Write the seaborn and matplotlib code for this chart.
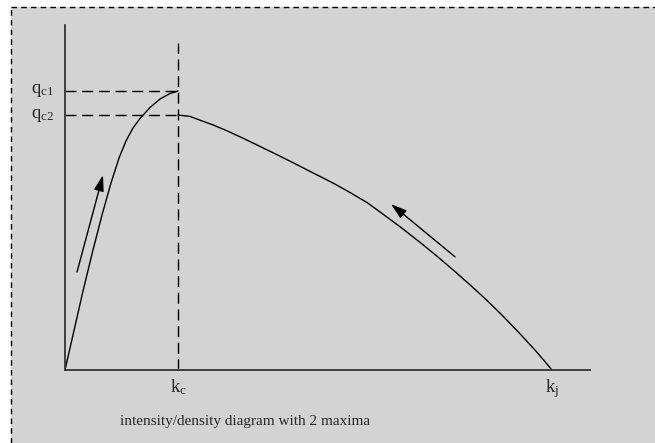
import matplotlib
matplotlib.use("Agg")
import matplotlib.pyplot as plt
from matplotlib.lines import Line2D
from matplotlib.patches import Rectangle
import seaborn as sns
import pandas as pd

# ---- data (density k, intensity q) ----
k_rise = [0.0, 3.43, 5.33, 7.05, 8.76, 10.29, 11.62, 12.95, 14.29, 16.19, 18.10, 20.0, 21.52]
q_rise = [0.0, 22.90, 34.78, 44.93, 54.20, 61.45, 66.38, 70.14, 72.90, 76.09, 78.55, 80.14, 80.87]
k_fall = [21.52, 23.81, 25.71, 28.19, 30.86, 33.90, 37.14, 40.38, 43.43, 46.67, 51.05, 54.29,
          57.52, 60.76, 63.81, 67.62, 70.86, 73.90, 77.14, 80.38, 83.43, 86.67, 89.71, 92.76]
q_fall = [73.91, 73.51, 72.41, 71.04, 69.33, 67.19, 64.81, 62.41, 60.09, 57.57, 54.20, 51.45,
          48.55, 44.96, 41.54, 37.01, 32.99, 29.04, 24.70, 20.17, 15.62, 10.49, 5.48, 0.0]
k_c, k_j = 21.52, 92.76
q_c1, q_c2 = 80.87, 73.91
labels_q = ["$\\mathrm{q}_{\\mathrm{c1}}$", "$\\mathrm{q}_{\\mathrm{c2}}$"]
labels_k = ["$\\mathrm{k}_{\\mathrm{c}}$", "$\\mathrm{k}_{\\mathrm{j}}$"]
caption = "intensity/density diagram with 2 maxima"
arrow_up = [(2.29, 28.4), (7.24, 56.5)]
arrow_down = [(74.3, 32.8), (62.1, 48.1)]

sns.set_style("white")
plt.rcParams["font.family"] = ["Liberation Serif", "DejaVu Serif"]
plt.rcParams["mathtext.fontset"] = "custom"
plt.rcParams["mathtext.rm"] = "Liberation Serif"
plt.rcParams["mathtext.it"] = "Liberation Serif:italic"

W, H = 655, 443
fig = plt.figure(figsize=(W / 100, H / 100), dpi=100)
fig.patch.set_facecolor("white")

# gray panel with dashed top/left border
fig.patches.append(Rectangle((11 / W, 0), 1, 1 - 7 / H, transform=fig.transFigure,
                             facecolor="#d3d3d3", edgecolor="none", zorder=-10))
fig.lines.append(Line2D([11 / W, 1], [1 - 7 / H, 1 - 7 / H], transform=fig.transFigure,
                        color="black", lw=1.0, ls=(0, (4, 3)), zorder=-5))
fig.lines.append(Line2D([11 / W, 11 / W], [0, 1 - 7 / H], transform=fig.transFigure,
                        color="black", lw=1.0, ls=(0, (4, 3)), zorder=-5))

ax = fig.add_axes([65 / W, (H - 370) / H, 525 / W, 345 / H])
ax.set_facecolor("none")
ax.set_zorder(5)
ax.set_xlim(0, 100)
ax.set_ylim(0, 100)

df_r = pd.DataFrame({"k": k_rise, "q": q_rise})
df_f = pd.DataFrame({"k": k_fall, "q": q_fall})
sns.lineplot(data=df_r, x="k", y="q", ax=ax, color="black", lw=1.0, sort=False, estimator=None)
sns.lineplot(data=df_f, x="k", y="q", ax=ax, color="black", lw=1.0, sort=False, estimator=None)

dash = (0, (8, 4))
ax.plot([k_c, k_c], [0, 94.8], color="black", lw=1.0, ls=dash)
ax.plot([0, k_c], [q_c1, q_c1], color="black", lw=1.0, ls=dash)
ax.plot([0, k_c], [q_c2, q_c2], color="black", lw=1.0, ls=dash)

for a in (arrow_up, arrow_down):
    ax.annotate("", xy=a[1], xytext=a[0],
                arrowprops=dict(arrowstyle="-|>,head_length=0.8,head_width=0.25",
                                color="black", lw=1.0, shrinkA=0, shrinkB=0,
                                mutation_scale=12))

for s in ["top", "right"]:
    ax.spines[s].set_visible(False)
for s in ["left", "bottom"]:
    ax.spines[s].set_color("#333333")
    ax.spines[s].set_linewidth(1.3)
ax.set_xticks([])
ax.set_yticks([])
ax.set_xlabel("")
ax.set_ylabel("")

for lab, q in zip(labels_q, [q_c1, q_c2]):
    ax.text(-2.0, q, lab, ha="right", va="center", fontsize=13.5, clip_on=False)
for lab, k in zip(labels_k, [k_c, k_j]):
    ax.text(k, -2.0, lab, ha="center", va="top", fontsize=13.5, clip_on=False)

fig.text(245 / W, 1 - 421 / H, caption, ha="center", va="center", fontsize=11)

fig.savefig("out.png", dpi=100)
